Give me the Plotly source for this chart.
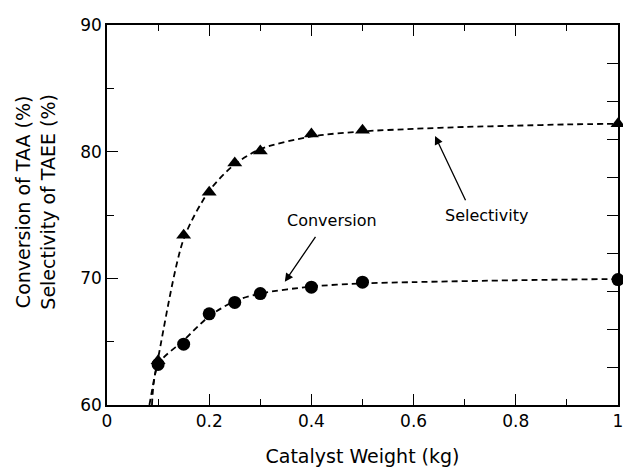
import plotly.graph_objects as go

# Data
weight = [0.1, 0.15, 0.2, 0.25, 0.3, 0.4, 0.5, 1.0]
conversion = [63.2, 64.8, 67.2, 68.1, 68.8, 69.3, 69.7, 69.9]
selectivity = [63.5, 73.4, 76.8, 79.1, 80.05, 81.4, 81.7, 82.2]

# Fitted (dashed) curves
conv_fit_x = [0.088, 0.1, 0.15, 0.2, 0.25, 0.3, 0.4, 0.5, 0.6, 0.8, 1.0]
conv_fit_y = [60.0, 63.2, 65.1, 67.0, 68.2, 68.8, 69.35, 69.6, 69.7, 69.85, 69.95]
sel_fit_x = [0.083, 0.1, 0.15, 0.2, 0.25, 0.3, 0.4, 0.5, 0.6, 0.7, 0.8, 0.9, 1.0]
sel_fit_y = [60.0, 63.7, 73.1, 76.9, 79.0, 80.2, 81.2, 81.6, 81.8, 81.95, 82.05, 82.15, 82.2]

FONT = "DejaVu Sans"

fig = go.Figure()
dash = "6px,4px"
fig.add_trace(go.Scatter(x=sel_fit_x, y=sel_fit_y, mode="lines", line=dict(color="black", width=1.8, dash=dash, shape="spline", smoothing=0.8), showlegend=False, hoverinfo="skip"))
fig.add_trace(go.Scatter(x=conv_fit_x, y=conv_fit_y, mode="lines", line=dict(color="black", width=1.8, dash=dash, shape="spline", smoothing=0.8), showlegend=False, hoverinfo="skip"))
fig.add_trace(go.Scatter(x=weight, y=selectivity, mode="markers", marker=dict(symbol="triangle-up", size=13, color="black"), name="Selectivity", showlegend=False, cliponaxis=False))
fig.add_trace(go.Scatter(x=weight, y=conversion, mode="markers", marker=dict(symbol="circle", size=13, color="black"), name="Conversion", showlegend=False, cliponaxis=False))

tickfont = dict(family=FONT, size=17, color="black")
fig.update_layout(
    template="none",
    width=623, height=474,
    margin=dict(l=107, r=5, t=25, b=69),
    paper_bgcolor="white", plot_bgcolor="white",
    font=dict(family=FONT, color="black"),
    xaxis=dict(range=[0, 1], dtick=0.2, tick0=0, ticks="inside", ticklen=11, tickwidth=1.3, tickcolor="black",
               minor=dict(dtick=0.1, ticks="inside", ticklen=6, tickwidth=1.3, tickcolor="black"),
               showline=True, linecolor="black", linewidth=1.5, showgrid=False, zeroline=False,
               tickfont=tickfont, tickformat="~g", ticklabeloverflow="allow", automargin=False,
               title=dict(text="Catalyst Weight (kg)", font=dict(family=FONT, size=19), standoff=20)),
    yaxis=dict(range=[60, 90], dtick=10, ticks="inside", ticklen=11, tickwidth=1.3, tickcolor="black",
               minor=dict(dtick=5, ticks="inside", ticklen=7, tickwidth=1.3, tickcolor="black"),
               showline=True, linecolor="black", linewidth=1.5, showgrid=False, zeroline=False,
               tickfont=tickfont, automargin=False),
    xaxis2=dict(range=[0, 1], overlaying="x", side="top", anchor="y", dtick=0.2, tick0=0, ticks="inside", ticklen=11, tickwidth=1.3, tickcolor="black",
                minor=dict(dtick=0.1, ticks="inside", ticklen=6, tickwidth=1.3, tickcolor="black"),
                showline=True, linecolor="black", linewidth=1.5, showgrid=False, zeroline=False, showticklabels=False, automargin=False),
    yaxis2=dict(range=[60, 90], overlaying="y", side="right", anchor="x", dtick=3, tick0=60, ticks="inside", ticklen=11, tickwidth=1.3, tickcolor="black",
                showline=True, linecolor="black", linewidth=1.5, showgrid=False, zeroline=False, showticklabels=False, automargin=False),
)

# invisible traces to anchor the overlay axes (top and right)
fig.add_trace(go.Scatter(x=[0.5], y=[75], yaxis="y2", mode="markers", marker=dict(opacity=0), showlegend=False, hoverinfo="skip"))
fig.add_trace(go.Scatter(x=[0.5], y=[75], xaxis="x2", mode="markers", marker=dict(opacity=0), showlegend=False, hoverinfo="skip"))

fig.add_annotation(text="Conversion of TAA (%)<br>Selectivity of TAEE (%)", xref="paper", yref="paper",
                   x=-0.139, y=0.535, textangle=-90, showarrow=False, font=dict(family=FONT, size=19), xanchor="center", yanchor="middle")

fig.add_annotation(text="Conversion", x=0.44, y=74.6, xref="x", yref="y", showarrow=False, font=dict(family=FONT, size=16))
fig.add_annotation(x=0.348, y=69.73, ax=0.41, ay=73.4, xref="x", yref="y", axref="x", ayref="y", text="",
                   showarrow=True, arrowhead=2, arrowsize=1.3, arrowwidth=1.3, arrowcolor="black")
fig.add_annotation(text="Selectivity", x=0.742, y=75.0, xref="x", yref="y", showarrow=False, font=dict(family=FONT, size=16))
fig.add_annotation(x=0.642, y=81.24, ax=0.703, ay=76.05, xref="x", yref="y", axref="x", ayref="y", text="",
                   showarrow=True, arrowhead=2, arrowsize=1.3, arrowwidth=1.3, arrowcolor="black")

fig.write_html("out.html", config={"displayModeBar": False},
               post_script="document.body.style.margin='0';document.body.style.padding='0';")
